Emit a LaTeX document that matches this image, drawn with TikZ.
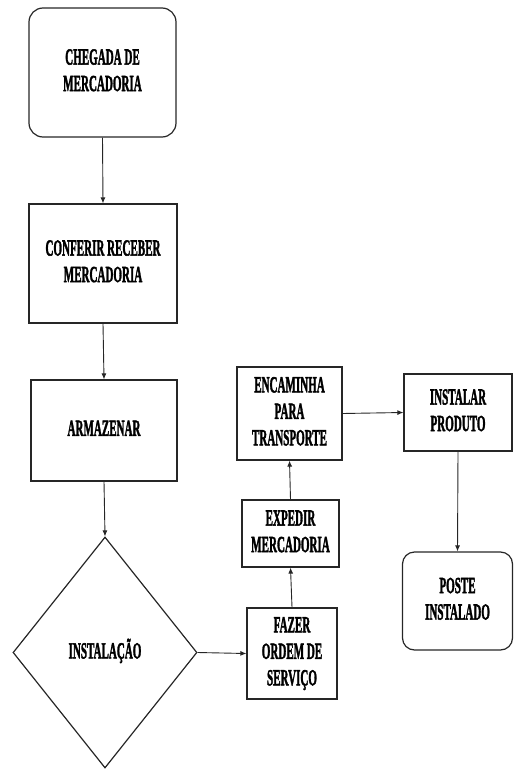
\documentclass[tikz,border=0pt]{standalone}
\usepackage{fontspec}
\usepackage{graphicx}
\newfontfamily\lblfont{Liberation Serif Bold}[FakeBold=2.5]
\newcommand\boxtext[1]{\scalebox{0.48}[1]{\begin{tabular}{@{}c@{}}#1\end{tabular}}}
\usetikzlibrary{shapes.geometric,arrows.meta}
\begin{document}
\begin{tikzpicture}[x=1pt,y=-1pt,
  every node/.style={font=\lblfont\fontsize{23}{26.5}\selectfont, align=center, inner sep=0pt, text=black},
  box/.style={draw=black!85, line width=1.2pt, rectangle},
  rbox/.style={box, rounded corners=14pt},
  dec/.style={draw=black!85, line width=1.2pt, diamond},
  arr/.style={draw=black!85, line width=0.9pt, -{Latex[length=6pt,width=5pt]}}]
\useasboundingbox (0,0) rectangle (514,770);
\node[rbox, minimum width=147pt, minimum height=129pt] (chegada) at (102.5,72.5) {\boxtext{CHEGADA DE\\MERCADORIA}};
\node[box, minimum width=148pt, minimum height=119pt] (conferir) at (103,263.5) {\boxtext{CONFERIR RECEBER\\MERCADORIA}};
\node[box, minimum width=146pt, minimum height=101pt] (armazenar) at (104,430.5) {\boxtext{ARMAZENAR}};
\node[dec, minimum width=184pt, minimum height=231pt] (instalacao) at (105,652.5) {\boxtext{INSTALAÇÃO}};
\node[box, minimum width=90pt, minimum height=91pt] (fazer) at (292,653.5) {\boxtext{FAZER\\ORDEM DE\\SERVIÇO}};
\node[box, minimum width=97pt, minimum height=67pt] (expedir) at (290.5,533.5) {\boxtext{EXPEDIR\\MERCADORIA}};
\node[box, minimum width=105pt, minimum height=93pt] (encaminha) at (289.5,413.5) {\boxtext{ENCAMINHA\\PARA\\TRANSPORTE}};
\node[box, minimum width=108pt, minimum height=77pt] (instalar) at (458,412.5) {\boxtext{INSTALAR\\PRODUTO}};
\node[rbox, rounded corners=12pt, minimum width=110pt, minimum height=98pt] (poste) at (457.5,601) {\boxtext{POSTE\\INSTALADO}};
\draw[arr] (chegada.south) -- (conferir.north);
\draw[arr] (conferir.south) -- (armazenar.north);
\draw[arr] (armazenar.south) -- (instalacao.north);
\draw[arr] (instalacao.east) -- (fazer.west);
\draw[arr] (fazer.north) -- (expedir.south);
\draw[arr] (expedir.north) -- (encaminha.south);
\draw[arr] (encaminha.east) -- (instalar.west);
\draw[arr] (instalar.south) -- (poste.north);
\end{tikzpicture}
\end{document}
